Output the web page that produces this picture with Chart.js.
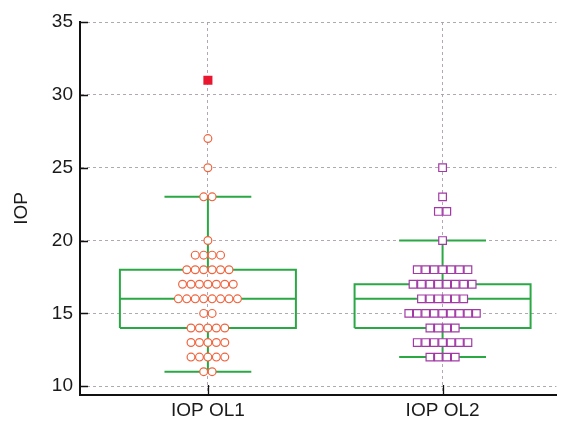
<!DOCTYPE html>
<html>
<head>
<meta charset="utf-8">
<script src="https://cdn.jsdelivr.net/npm/chart.js@4/dist/chart.umd.min.js"></script>
<style>
  html, body { margin: 0; padding: 0; background: #fff; }
  #wrap { width: 563px; height: 423px; }
</style>
</head>
<body>
<div id="wrap"><canvas id="c" width="563" height="423"></canvas></div>
<script>
// Groups on the x axis
const categories = ['IOP OL1', 'IOP OL2'];

// IOP readings per group and how many eyes had each reading
const ol1Values = [11, 12, 13, 14, 15, 16, 17, 18, 19, 20, 23, 25, 27];
const ol1Counts = [2, 5, 5, 5, 2, 8, 7, 6, 4, 1, 2, 1, 1];
const ol1Outliers = [31];

const ol2Values = [12, 13, 14, 15, 16, 17, 18, 20, 22, 23, 25];
const ol2Counts = [4, 7, 4, 9, 6, 8, 7, 1, 2, 1, 1];
const ol2Outliers = [];

// Box summaries: lower whisker, Q1, median, Q3, upper whisker
const ol1Box = [11, 14, 16, 18, 23];
const ol2Box = [12, 14, 16, 17, 20];

const yTicks = [10, 15, 20, 25, 30, 35];

const GREEN = '#2aa844';
const ORANGE = '#f0643e';
const PURPLE = '#a23aa6';
const RED = '#e8172f';
const GRID = 'rgba(170,158,170,0.9)';

const BOX_HALF = 0.375;     // half box width, x units
const CAP_HALF = 0.185;     // half whisker-cap width
const DOT_STEP = 0.036;     // horizontal step between stacked markers

// Markers with the same reading are laid side by side, centred on the group
function dotPoints(xc, values, counts) {
  const pts = [];
  values.forEach((v, i) => {
    const n = counts[i];
    for (let k = 0; k < n; k++) {
      pts.push({ x: xc + (k - (n - 1) / 2) * DOT_STEP, y: v });
    }
  });
  return pts;
}

// Box outline, median, whiskers and caps as one broken polyline
function boxLines(xc, s) {
  const [lo, q1, med, q3, hi] = s;
  const gap = { x: xc, y: null };
  return [
    { x: xc - BOX_HALF, y: q1 }, { x: xc + BOX_HALF, y: q1 },
    { x: xc + BOX_HALF, y: q3 }, { x: xc - BOX_HALF, y: q3 },
    { x: xc - BOX_HALF, y: q1 }, gap,
    { x: xc - BOX_HALF, y: med }, { x: xc + BOX_HALF, y: med }, gap,
    { x: xc, y: q3 }, { x: xc, y: hi }, gap,
    { x: xc, y: q1 }, { x: xc, y: lo }, gap,
    { x: xc - CAP_HALF, y: hi }, { x: xc + CAP_HALF, y: hi }, gap,
    { x: xc - CAP_HALF, y: lo }, { x: xc + CAP_HALF, y: lo }
  ];
}

function lineSet(data) {
  return {
    type: 'line', data, order: 3,
    borderColor: GREEN, borderWidth: 2, pointRadius: 0,
    fill: false, tension: 0, spanGaps: false
  };
}

const datasets = [
  lineSet(boxLines(1, ol1Box)),
  lineSet(boxLines(2, ol2Box)),
  {
    type: 'scatter', order: 1, data: dotPoints(1, ol1Values, ol1Counts),
    pointStyle: 'circle', pointRadius: 3.9, borderWidth: 1.2,
    borderColor: ORANGE, backgroundColor: '#ffffff'
  },
  {
    type: 'scatter', order: 1, data: dotPoints(2, ol2Values, ol2Counts),
    pointStyle: 'rect', pointRadius: 5.4, borderWidth: 1.2,
    borderColor: PURPLE, backgroundColor: '#ffffff'
  },
  {
    type: 'scatter', order: 0,
    data: ol1Outliers.map(v => ({ x: 1, y: v })).concat(ol2Outliers.map(v => ({ x: 2, y: v }))),
    pointStyle: 'rect', pointRadius: 6.4, borderWidth: 0,
    borderColor: RED, backgroundColor: RED
  }
];

// Short inward tick marks on both axes
const innerTicks = {
  id: 'innerTicks',
  afterDraw(chart) {
    const { ctx, chartArea, scales } = chart;
    ctx.save();
    ctx.strokeStyle = '#111';
    ctx.lineWidth = 1.3;
    ctx.beginPath();
    yTicks.forEach(v => {
      const y = Math.round(scales.y.getPixelForValue(v)) + 0.5;
      ctx.moveTo(chartArea.left, y);
      ctx.lineTo(chartArea.left + 8, y);
    });
    categories.forEach((c, i) => {
      const x = Math.round(scales.x.getPixelForValue(i + 1)) + 0.5;
      ctx.moveTo(x, chartArea.bottom);
      ctx.lineTo(x, chartArea.bottom - 10);
    });
    ctx.stroke();
    ctx.restore();
  }
};

const FONT = 'Liberation Sans, Arial, sans-serif';

new Chart(document.getElementById('c'), {
  type: 'scatter',
  data: { datasets },
  options: {
    responsive: false,
    animation: false,
    events: [],
    layout: { padding: { top: 22, right: 6, left: 0, bottom: 0 } },
    plugins: { legend: { display: false }, tooltip: { enabled: false } },
    scales: {
      x: {
        type: 'linear', min: 0.455, max: 2.485,
        afterBuildTicks(scale) { scale.ticks = categories.map((c, i) => ({ value: i + 1 })); },
        afterFit(scale) { scale.height = 28; },
        ticks: {
          callback: (v) => categories[Math.round(v) - 1] || '',
          color: '#1a1a1a', font: { family: FONT, size: 19 }, padding: 4,
          maxRotation: 0, autoSkip: false
        },
        grid: { color: GRID, lineWidth: 1, drawTicks: false },
        border: { display: true, color: '#111', width: 2, dash: [3, 3] }
      },
      y: {
        type: 'linear', min: 9.4, max: 35,
        afterBuildTicks(scale) { scale.ticks = yTicks.map(v => ({ value: v })); },
        afterFit(scale) { scale.width = 80; },
        ticks: {
          color: '#1a1a1a', font: { family: FONT, size: 19 }, padding: 7
        },
        title: {
          display: true, text: 'IOP', color: '#1a1a1a',
          font: { family: FONT, size: 19 }, padding: { top: 10, bottom: 0 }
        },
        grid: { color: GRID, lineWidth: 1, drawTicks: false },
        border: { display: true, color: '#111', width: 2, dash: [3, 3] }
      }
    }
  },
  plugins: [innerTicks]
});
</script>
</body>
</html>
